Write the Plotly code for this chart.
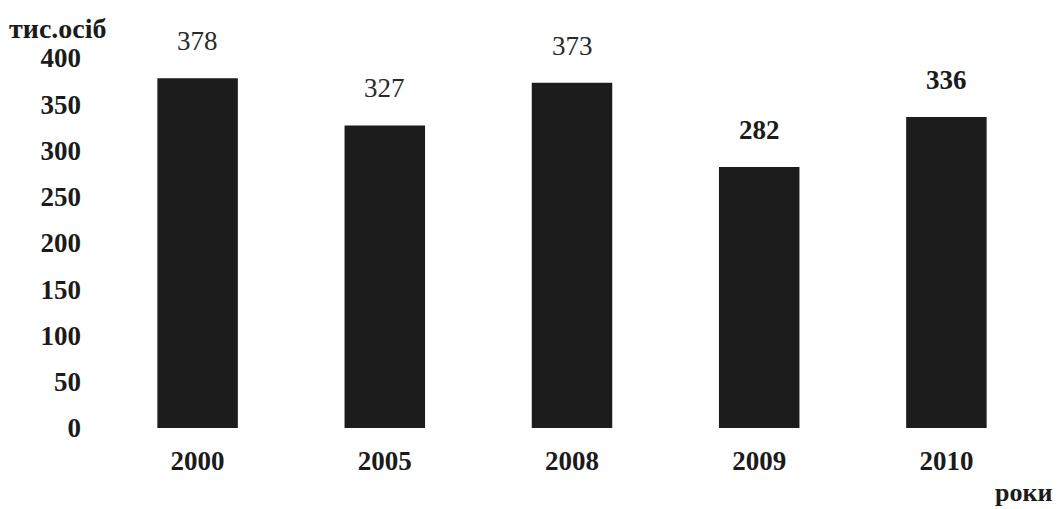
import plotly.graph_objects as go

years = ["2000", "2005", "2008", "2009", "2010"]
values = [378, 327, 373, 282, 336]
y_ticks = [0, 50, 100, 150, 200, 250, 300, 350, 400]
y_unit = "тис.осіб"
x_unit = "роки"

FONT = "Liberation Serif, Times New Roman, serif"
INK = "#1b1b1b"

pos = list(range(len(years)))

fig = go.Figure()
fig.add_trace(go.Bar(
    x=pos, y=values,
    marker=dict(color="#1c1c1c", line=dict(width=0)),
    customdata=years,
    hovertemplate="%{customdata}: %{y}<extra></extra>",
))

# value labels above bars (first three lighter weight as in the scan)
for i, v in zip(pos, values):
    fig.add_annotation(
        x=i, y=v, xref="x", yref="y",
        text=str(v), showarrow=False,
        yanchor="bottom", yshift=20,
        font=dict(family=FONT, size=27, color="#2a2a2a" if i < 3 else INK,
                  weight="normal" if i < 3 else "bold"),
    )

fig.add_annotation(
    x=0, y=1, xref="paper", yref="paper", xanchor="left", yanchor="middle",
    xshift=-97, yshift=16, text=f"<b>{y_unit}</b>", showarrow=False,
    font=dict(family=FONT, size=28, color=INK),
)
fig.add_annotation(
    x=1, y=0, xref="paper", yref="paper", xanchor="right", yanchor="middle",
    xshift=14, yshift=-64, text=f"<b>{x_unit}</b>", showarrow=False,
    font=dict(family=FONT, size=26, color=INK),
)

fig.update_layout(
    width=1062, height=509,
    margin=dict(l=104, r=22, t=44, b=81),
    paper_bgcolor="white", plot_bgcolor="white",
    bargap=0.57, showlegend=False,
    font=dict(family=FONT, color=INK),
)
fig.update_xaxes(
    range=[-0.5, len(years) - 0.5], tickvals=pos, ticktext=years,
    showline=False, showgrid=False, zeroline=False,
    ticks="", ticklabelstandoff=14,
    tickfont=dict(family=FONT, size=27, color=INK, weight="bold"),
)
fig.update_yaxes(
    range=[0, 415], tickvals=y_ticks, showline=False, showgrid=False,
    zeroline=False, ticks="", ticklabelstandoff=22,
    tickfont=dict(family=FONT, size=27, color=INK, weight="bold"),
)

fig.write_html("out.html")
